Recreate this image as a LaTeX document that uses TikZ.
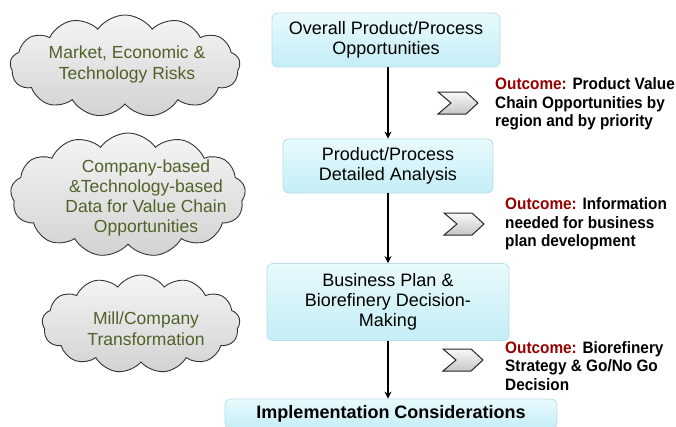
\documentclass[tikz,border=0pt]{standalone}
\usepackage{fontspec}
\setmainfont{Liberation Sans}
\newfontfamily\outfont[FakeStretch=0.93]{Liberation Sans}
\usetikzlibrary{shapes.symbols,arrows.meta}
\definecolor{cloudtxt}{RGB}{79,98,40}
\definecolor{outred}{RGB}{150,0,0}
\definecolor{boxtop}{RGB}{232,250,253}
\definecolor{boxbot}{RGB}{196,238,246}
\definecolor{boxline}{RGB}{185,222,230}
\tikzset{
  cloudshape/.style={cloud, cloud puffs=13, cloud puff arc=110, cloud ignores aspect,
    draw=black!80, line width=0.9pt, top color=gray!8, bottom color=gray!35, inner sep=0pt},
  cloudtext/.style={text=cloudtxt, align=center, inner sep=0pt, font=\fontsize{17.5}{21}\selectfont},
  stepbox/.style={draw=boxline, line width=0.8pt, rounded corners=6pt, top color=boxtop, bottom color=boxbot,
    align=center, inner sep=0pt, font=\fontsize{18}{20}\selectfont},
  outtext/.style={align=left, anchor=west, inner sep=0pt, font=\outfont\bfseries\fontsize{16.5}{18.5}\selectfont},
  flowarrow/.style={line width=1.4pt, -{Stealth[length=7pt,width=7pt]}},
  chev/.style={draw=black!85, line width=1pt, top color=gray!5, bottom color=gray!45, line join=miter}
}
\newcommand{\chevronat}[2]{%
  \draw[chev] (#1-20,#2-11) -- (#1+8,#2-11) -- (#1+20,#2) -- (#1+8,#2+11) -- (#1-20,#2+11) -- (#1-7,#2) -- cycle;}
\begin{document}
\begin{tikzpicture}[x=1pt,y=-1pt]
\useasboundingbox (0,0) rectangle (676,426);

% clouds
\node[cloudshape, minimum width=230pt, minimum height=102pt] (c1) at (125,66) {};
\node[cloudtext] (t1) at (127,64) {Market, Economic \&\\Technology Risks};
\node[cloudshape, minimum width=235pt, minimum height=124pt] (c2) at (128,195) {};
\node[cloudtext, font=\fontsize{17.5}{20}\selectfont] (t2) at (146,198) {Company-based\\\&Technology-based\\Data for Value Chain\\Opportunities};
\node[cloudshape, minimum width=198pt, minimum height=98pt] (c3) at (141,324) {};
\node[cloudtext] (t3) at (146,329) {Mill/Company\\Transformation};

% boxes
\node[stepbox, minimum width=228pt, minimum height=54pt] (b1) at (386,40) {Overall Product/Process\\Opportunities};
\node[stepbox, minimum width=210pt, minimum height=54pt] (b2) at (388,166) {Product/Process\\Detailed Analysis};
\node[stepbox, minimum width=242pt, minimum height=77pt] (b3) at (388,302) {Business Plan \&\\Biorefinery Decision-\\Making};
\node[stepbox, minimum width=332pt, minimum height=30pt, font=\bfseries\fontsize{18}{20}\selectfont] (b4) at (391,414) {Implementation Considerations};

% arrows
\draw[flowarrow] (b2.north |- b1.south) -- (b2.north);
\draw[flowarrow] (b2.south) -- (b3.north);
\draw[flowarrow] (b3.south) -- (b3.south |- b4.north);

% chevrons
\chevronat{458}{103}
\chevronat{464}{224}
\chevronat{463}{360}

% outcomes
\node[outtext] (o1) at (495,104) {\textcolor{outred}{Outcome:} Product Value\\Chain Opportunities by\\region and by priority};
\node[outtext] (o2) at (505,224) {\textcolor{outred}{Outcome:} Information\\needed for business\\plan development};
\node[outtext] (o3) at (505,366) {\textcolor{outred}{Outcome:} Biorefinery\\Strategy \& Go/No Go\\Decision};
\end{tikzpicture}
\end{document}
